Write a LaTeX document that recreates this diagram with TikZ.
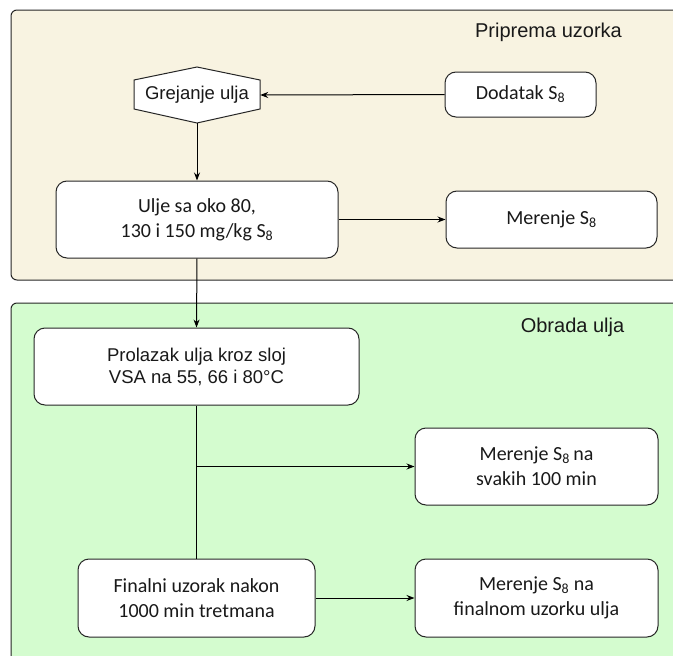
\documentclass[tikz,border=0pt]{standalone}
\usepackage{fontspec}
\setmainfont{Carlito}
\newfontfamily\arialfont{Liberation Sans}
\usetikzlibrary{arrows.meta}
\definecolor{beigepanel}{RGB}{248,243,225}
\definecolor{greenpanel}{RGB}{212,252,207}
\definecolor{textgray}{RGB}{25,25,25}
\begin{document}
\begin{tikzpicture}[
        x=1pt, y=-1pt,
        every node/.style={text=textgray, font=\fontsize{20}{25}\selectfont},
        panel/.style={draw=black!85, line width=1pt, rounded corners=6pt},
        stepbox/.style={draw=black!85, fill=white, line width=1pt, rounded corners=11pt, align=center, inner sep=2pt},
        hexbox/.style={draw=black!85, fill=white, line width=1pt},
        arialtext/.style={font=\arialfont\fontsize{18.5}{22}\selectfont},
        title/.style={font=\arialfont\fontsize{20}{24}\selectfont},
        flow/.style={-{Stealth[length=8pt,width=6pt]}, line width=1pt},
        link/.style={line width=1pt}]

    \useasboundingbox (0,0) rectangle (673,656);
    \clip (0,0) rectangle (673,656);

    \draw[panel, fill=beigepanel] (11,10) rectangle (690,280);
    \draw[panel, fill=greenpanel] (11,303) rectangle (690,690);

    \node[title] (priprema) at (548.5,32) {Priprema uzorka};
    \node[title] (obrada) at (572.5,327) {Obrada ulja};

    \draw[hexbox] (134,80) -- (197,67) -- (260,80) -- (260,109) -- (197,123) -- (134,109) -- cycle;
    \node[arialtext, minimum width=126pt, minimum height=56pt, inner sep=0pt] (grejanje) at (197,95) {Grejanje ulja};
    \node[stepbox, minimum width=151pt, minimum height=45pt] (dodatak) at (520.5,94.5) {Dodatak S\textsubscript{8}};
    \node[stepbox, minimum width=282pt, minimum height=77pt] (ulje) at (197,219.5) {Ulje sa oko 80,\\130 i 150 mg/kg S\textsubscript{8}};
    \node[stepbox, minimum width=211pt, minimum height=57pt] (merenje) at (551.5,219.5) {Merenje S\textsubscript{8}};

    \node[stepbox, arialtext, minimum width=325pt, minimum height=77pt] (prolazak) at (196.5,366.5) {Prolazak ulja kroz sloj\\VSA na 55, 66 i 80°C};
    \node[stepbox, minimum width=243pt, minimum height=77pt] (svakih) at (536.5,466.5) {Merenje S\textsubscript{8}\,na\\svakih 100 min};
    \node[stepbox, minimum width=237pt, minimum height=78pt] (finalni) at (196.5,598) {Finalni uzorak nakon\\1000 min tretmana};
    \node[stepbox, minimum width=243pt, minimum height=78pt] (finalnom) at (536.5,598) {Merenje S\textsubscript{8} na\\finalnom uzorku ulja};

    \draw[flow] (dodatak.west) -- (grejanje.east);
    \draw[flow] (grejanje.south) -- (ulje.north);
    \draw[flow] (ulje.east) -- (merenje.west);
    \draw[flow] (ulje.south) -- (prolazak.north);
    \draw[link] (prolazak.south) -- (finalni.north);
    \coordinate (grana) at (prolazak.south |- svakih.west);
    \draw[flow] (grana) -- (svakih.west);
    \draw[flow] (finalni.east) -- (finalnom.west);
\end{tikzpicture}
\end{document}
